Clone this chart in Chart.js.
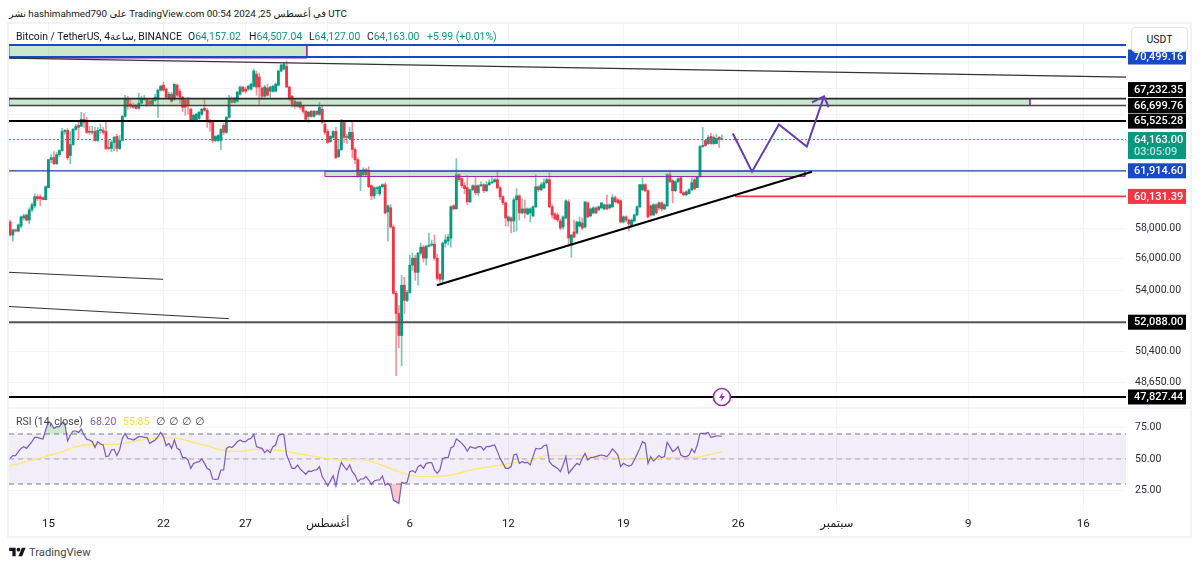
<!DOCTYPE html>
<html>
<head>
<meta charset="utf-8">
<title>BTCUSDT 4h</title>
<script src="https://cdn.jsdelivr.net/npm/chart.js@4"></script>
<style>
    html, body { margin: 0; padding: 0; background: #fff; }
    body { width: 1200px; height: 568px; position: relative; overflow: hidden; font-family: Roboto, "DejaVu Sans", sans-serif; color: #131722; }
    canvas { position: absolute; }
    #published { position: absolute; left: 9px; top: 6px; font-size: 9.8px; line-height: 16px; white-space: nowrap; direction: ltr; }
    #frame { position: absolute; left: 7px; top: 22px; width: 1181px; height: 512px; border: 2px solid #f0f3fa; }
    #sep { position: absolute; left: 8px; top: 407px; width: 1182px; height: 2px; background: #f0f3fa; z-index: 3; }
    #legend { position: absolute; left: 16px; top: 29px; font-size: 10.4px; line-height: 15px; white-space: nowrap; z-index: 4; }
    #legend b, #rsiLegend b { font-weight: 400; position: absolute; top: 0; white-space: nowrap; }
    #legend i { font-style: normal; color: #089981; }
    #rsiLegend { position: absolute; left: 16px; top: 414px; font-size: 10.5px; line-height: 15px; white-space: nowrap; z-index: 4; }
    #unit { position: absolute; left: 1131px; top: 27px; width: 55px; height: 23px; line-height: 23px; text-align: center; font-size: 10.5px; background: #fff; border: 1px solid #e0e3eb; border-radius: 4px; z-index: 4; }
    #brand { position: absolute; left: 29px; top: 545px; font-size: 11.2px; line-height: 16px; color: #434651; }
    #logo { position: absolute; left: 9px; top: 546px; }
</style>
</head>
<body>
<div id="published">نشر hashimahmed790 على TradingView.com في أغسطس 25, 2024 00:54 UTC</div>
<div id="frame"></div>
<canvas id="priceChart"></canvas>
<canvas id="rsiChart"></canvas>
<div id="sep"></div>
<div id="legend">
    <b style="left:0">Bitcoin / TetherUS, 4ساعة, BINANCE</b>
    <b style="left:172px">O<i>64,157.02</i></b>
    <b style="left:233px">H<i>64,507.04</i></b>
    <b style="left:293px">L<i>64,127.00</i></b>
    <b style="left:351px">C<i>64,163.00</i></b>
    <b style="left:411px"><i>+5.99 (+0.01%)</i></b>
</div>
<div id="rsiLegend">
    <b style="left:0;color:#434651">RSI (14, close)</b>
    <b style="left:74px;color:#7e57c2">68.20</b>
    <b style="left:107px;color:#fdd835">55.85</b>
    <b style="left:140px;color:#434651">∅</b>
    <b style="left:153px;color:#434651">∅</b>
    <b style="left:166px;color:#434651">∅</b>
    <b style="left:179px;color:#434651">∅</b>
</div>
<div id="unit">USDT</div>
<svg id="logo" width="17" height="13" viewBox="0 0 36 28"><path d="M14 22H7V11H0V4h14v18zM28 22h-8l7.5-18h8L28 22z" fill="#131722"/><circle cx="20" cy="8" r="4" fill="#131722"/></svg>
<div id="brand">TradingView</div>

<script>
// 4h candles, first one on 12 Jul 16:00, last one on 25 Aug 00:00
var candleOpen = [
    58400,57540,57870,57800,58130,58670,58870,58530,59210,59490,
    60110,60110,60040,59900,60730,62710,62850,62420,63070,63360,
    64760,64830,63000,63800,64910,65210,65130,65660,65510,64760,
    64690,64760,64090,64830,64830,64760,63580,63510,63950,64390,
    63510,64090,65880,67180,66800,66650,66650,66490,66880,67180,
    67180,67030,66800,67100,67180,67880,68270,67960,67260,67570,
    67180,68270,67800,67340,67100,67100,66420,65580,65580,65730,
    66040,66490,66340,65580,65430,64090,64090,64090,65210,64690,
    65810,67100,66950,67030,67570,68120,67960,67960,67960,68190,
    69140,68900,68040,67410,68040,67800,67800,67800,68270,69380,
    69540,69770,68120,67410,67030,66650,66950,66650,66260,65880,
    66260,65880,66260,66040,66420,65280,64760,64020,64320,64760,
    62930,63430,65430,64390,64240,64690,63430,62710,61570,61640,
    61990,61920,60870,60170,60660,60310,60800,60940,59080,59350,
    58070,53830,52610,51300,54330,53400,53890,55590,56040,55140,
    56360,56750,56040,56810,56880,56940,56040,55020,54700,57010,
    57140,57340,59490,59280,61640,61360,60870,60730,59760,60590,
    60870,60380,60870,60940,60520,60940,61080,61150,61290,60730,
    60110,59690,58470,58670,58470,59900,60170,59010,59280,58940,
    59010,58810,59420,60800,60590,60730,61080,61290,59420,58940,
    58870,58470,58070,58670,59760,56880,57740,57670,58130,58330,
    58070,59690,58810,59010,59350,59210,59350,59280,59560,59350,
    59420,60040,59900,59830,58400,58740,58530,58130,58470,58870,
    59420,60590,60940,60520,59490,58870,59560,59350,59690,59280,
    59490,61640,61220,60520,61150,61430,60380,60240,60310,60590,
    61290,60730,61500,63650,64090,63870,64390,63870,63870,64320,
    64157.02
];
var candleClose = [
    57540,57870,57800,58200,58740,58810,58530,59210,59560,60110,
    59970,59970,59900,60800,62710,62850,62420,63070,63360,64760,
    64830,62850,63800,64910,65130,65060,65660,65430,64690,64690,
    64760,64090,64830,64910,64690,63510,63510,63950,64320,63510,
    64090,65880,67180,66650,66650,66570,66490,66880,67180,67260,
    66720,66800,67100,67340,67880,68190,67880,67340,67570,67030,
    68350,67490,67340,66570,66570,66720,65580,65960,66040,66190,
    66420,66340,65580,65430,64090,64390,64460,64910,64690,65810,
    67180,66950,67260,67730,68120,67800,67800,68190,68350,69380,
    68120,68120,67410,68120,67490,68120,68190,68350,69380,69850,
    69930,68120,67260,66800,66650,66950,66570,66260,65660,66190,
    65880,66260,66040,66570,65430,64690,63950,64390,64760,62850,
    63430,65430,64320,64320,64690,63430,62710,61570,61920,61990,
    61640,60800,60170,60730,60730,60800,60940,59010,59490,58070,
    53830,52610,51300,54330,53400,53890,55590,56040,55140,56360,
    56750,56040,56810,56880,56940,56040,54760,54700,57010,57210,
    57400,59420,59280,61640,61290,60870,60660,59760,60590,60870,
    60380,60870,60940,60520,60940,61080,61150,61290,60730,60110,
    59690,58670,58740,58470,59900,60170,59010,59280,59010,59280,
    59280,59420,60800,60590,60940,61080,61290,59420,58870,58600,
    58530,58000,58740,59830,57340,57540,57400,58400,58400,58000,
    59760,58740,59280,59350,59010,59420,59690,59560,59280,59560,
    60040,59760,59690,58400,58740,58530,58270,58530,58870,59420,
    60940,60940,60520,58740,58870,59560,59010,59690,59280,59560,
    61640,61150,60520,61150,61360,60380,60240,60450,60590,61080,
    60660,61500,63650,63730,63730,64320,63870,64320,64240,64170,
    64163.00
];
var candleHigh = [
    58530,57930,57930,58270,58810,58940,58940,59350,59690,60310,
    60240,60240,60110,60870,62710,63070,63290,63220,63430,64980,
    64910,64980,64760,64980,65280,65510,66190,66110,65810,65130,
    65130,65060,65060,65280,65060,65510,64170,64090,64390,64540,
    64460,65960,67490,67410,67180,66880,66800,67650,67410,67490,
    67260,67180,67180,67570,67960,68270,68510,68040,67730,67730,
    68350,68350,67960,67410,67180,67340,66490,66040,66110,66260,
    66490,67180,66490,65660,65510,64460,64540,64980,65360,65880,
    67490,67340,67340,67800,68190,68190,68120,68270,68430,69540,
    69380,69220,68120,68270,68350,68190,68270,68430,69460,69930,
    70090,70180,68190,67490,67180,67030,67030,66720,66340,66260,
    66340,66340,66340,66950,66650,65430,64910,64460,64830,65060,
    64170,65660,65580,64540,65060,65580,63580,62850,61990,62140,
    62070,62210,60940,60800,60800,60870,61010,61080,59560,59560,
    58200,53950,53090,54950,54830,54020,56230,56360,56230,56420,
    57010,56880,56880,57670,57210,57540,56300,55080,57080,57540,
    57600,59490,59560,62780,61710,61430,61080,61570,60660,60940,
    61500,60940,61150,61010,61150,61290,61500,61360,61850,60800,
    60170,59760,58810,58740,60040,60660,60240,59970,59900,59350,
    59350,59490,61640,60870,61080,61360,61430,61780,59560,59010,
    59010,58600,58810,59900,59900,57600,58530,58470,58740,58670,
    59760,59760,59350,59420,59420,59490,59690,59620,60240,59620,
    60240,60170,59970,59900,58810,58810,58600,58600,58940,59490,
    60940,61430,61010,60590,59560,59620,59620,59760,59760,59620,
    61710,61850,61290,61220,61430,61500,60450,60520,60660,61430,
    61430,61500,63730,65060,64170,64460,64610,64460,64540,64390,
    64507.04
];
var candleLow = [
    57470,57140,57740,57740,58000,58530,58470,58270,59080,59350,
    59830,59490,59900,59900,60730,62490,62350,62350,62930,63290,
    64540,62710,62420,63730,64830,64170,65510,65060,64610,64540,
    64540,64020,64020,64610,64540,63430,63430,63290,63360,63290,
    63430,64090,65810,66420,66490,66490,66420,66420,66800,67100,
    66650,66720,66720,67030,65810,67800,67800,67260,67180,66950,
    67100,67340,66880,66260,65960,66040,65510,65510,65510,65660,
    65960,66260,65060,64760,63950,64020,64020,63430,64540,64610,
    65730,66880,66880,66950,67490,67730,67650,67880,67880,68120,
    67490,66800,67180,67340,67410,67340,67730,67730,68190,69300,
    69460,68120,67100,66570,66490,66570,66420,66110,65510,65430,
    65810,65810,65960,65960,65360,64540,63870,63950,64240,62780,
    62850,63360,63950,63870,64170,62850,62420,61430,60520,61570,
    61570,60730,59900,59970,60310,60170,60730,58940,57140,58000,
    53770,49000,50590,49560,52610,53330,53830,55270,54640,54330,
    56230,55780,55590,56750,56810,55910,54640,54510,54450,56750,
    56880,56750,59210,59280,61150,60730,60310,59560,59690,60520,
    60240,60170,60800,60380,60450,60870,61010,61080,60660,59900,
    59560,58130,58130,57670,57740,57800,58530,58940,58670,58870,
    58400,58740,59350,60450,60520,60660,61010,59350,58670,58530,
    58400,57870,57930,58600,56810,56100,57340,57600,58070,57870,
    58000,58670,58740,58940,58940,59150,59280,59210,59210,59280,
    59350,59690,59620,58330,58330,58400,57800,58070,58400,58810,
    59350,60520,60450,58670,58810,58810,58940,59210,59150,59210,
    59420,61080,59690,60450,61080,60310,60170,60170,60310,60520,
    60590,60730,61430,63580,63650,63800,63800,63800,63870,63580,
    64127.00
];

var rsiValues = [
    50.5,52.7,52.7,55.9,58.5,59.9,58.5,61.2,63.9,67.3,
    67.3,66.5,66,73.2,79.9,78.5,74.5,75.9,75.9,79.3,
    78.5,64.4,69.2,72.4,72.4,71.3,74,69.2,65.7,65.2,
    63.9,59.3,63.9,62,61.2,51.9,52.4,57.2,57.7,52.7,
    57.2,66.5,70.5,66.5,66,65.2,66.5,67.9,67.9,67.3,
    67.3,62.5,63.9,65.2,67.9,71.3,67.9,60.7,62.5,58.5,
    65.2,58.5,57.2,51.1,51.1,49.2,42.5,46.5,47.3,47.9,
    50,46.5,42.5,41.2,34,33.7,34,41.2,41.2,58.5,
    59.9,59.1,61.2,63.9,65.2,63.9,63.9,65.7,66.5,69.7,
    59.9,59.1,58.5,55.1,57.2,55.1,59.9,61.2,68.7,69.7,
    69.7,53.2,47.9,42.5,42.5,45.2,42,39.9,37.7,40.4,
    39.9,41.2,41.2,43.9,35.9,32.4,28.4,32.4,36.7,28.4,
    39.9,47.3,43.9,41.2,45.2,39.9,37.2,31.9,34,34,
    35.9,33.2,29.7,32.4,33.2,33.2,36.4,29.2,30.5,27.9,
    17.2,15.9,14.5,31.3,30.5,31.3,39.9,40.7,39.1,43.9,
    45.2,42.5,46.5,47.1,47.1,41.2,38.5,41.2,50.5,51.1,
    51.1,59,59.9,66,64.4,62.5,59.9,56.4,59.9,59.1,
    58.5,59.9,59.9,57.2,59.9,59.9,60.7,61.2,55.9,50.5,
    46.5,42.5,42.5,43.9,53.2,54,46.5,47.9,46.9,47.3,
    45.2,51.9,58.5,58,58.5,60.7,61.2,47.9,45.2,43.9,
    42.5,39.9,45.2,51.9,38.5,41.2,43.9,46.5,45.2,50.5,
    54.5,49.2,51.1,51.3,51.9,52.7,53.2,52.7,51.9,54.5,
    58,55.9,53.2,43.9,46.5,45.2,44.4,45.2,49.2,53.7,
    58.5,63.9,62.5,46.5,51.9,48.4,50.5,52.7,51.1,51.9,
    63.3,59.9,55.9,57.2,59.9,53.2,51.9,51.9,53.2,58,
    55.1,61.2,70.5,70.5,70.5,71.3,67.3,67.9,68.4,68.4,
    68.2
];
var rsiMaCandle = [0,5,9,15,18,23,27,32,38,43,49,56,61,67,73,79,84,90,99,106,113,121,128,134,142,147,152,158,163,169,178,185,191,196,203,209,216,220,228,235,243,250,255,260];
var rsiMaValues = [44.7,47.3,49.7,53.2,55.1,59.1,61.2,61.7,61.7,63.1,65.7,67.1,66.5,63.3,59.9,56.4,56.1,57.7,56.7,54,51.3,49.2,49.7,46.5,39.9,36.7,35.9,36.4,38,41.5,44.7,47.3,49.2,52.7,52.7,52.7,51.3,51.1,49.5,50.5,51.3,51.3,53.2,55.85];
var rsiLevels = [70, 50, 30];
var rsiTicks = [75, 50, 25];

// time axis, in candle numbers
var dateTicks = [14, 56, 86, 116, 146, 182, 224, 266, 302, 350, 392];
var dateLabels = ['15', '22', '27', 'أغسطس', '6', '12', '19', '26', 'سبتمبر', '9', '16'];

var gridPrices = [68000, 66000, 64000, 62000, 60000, 58000, 56000, 54000, 52000, 50400, 48650];
var labelledPrices = [58000, 56000, 54000, 50400, 48650];

// levels with a tag on the price axis
var tagPrices = [70499.16, 67232.35, 66699.76, 65525.28, 61914.60, 60131.39, 52088.00, 47827.44];
var tagColors = ['#1848cc', '#000', '#000', '#000', '#1848cc', '#f23645', '#000', '#000'];
var lastPrice = 64163.00;
var countdown = '03:05:09';

// drawings: candle number / price pairs
var topLineX = [-0.4, 407.6], topLineY = [71480, 71480];
var level70X = [-0.4, 407.6], level67X = [-0.4, 407.6], level66X = [-0.4, 407.6], level65X = [-0.4, 407.6];
var blueLevelX = [-0.4, 407.6], lowLevelX = [-0.4, 407.6], bottomLevelX = [-0.4, 407.6];
var redLevelX = [264.8, 407.6];
var fallingX = [-0.4, 407.6], fallingY = [70417, 68900];
var stub1X = [-0.4, 55.9], stub1Y = [55141, 54700];
var stub2X = [-0.4, 79.9], stub2Y = [53030, 52300];
var risingX = [155.9, 292.9], risingY = [54330, 61850];
var pathX = [264, 271, 280.8, 291, 297.3], pathY = [64610, 61850, 65280, 63650, 67410];
var headX = [292.9, 297.3, 299], headY = [66950, 67410, 66570];
var zoneTop = { x: [-0.4, 108.4], y: [71480, 70417] };
var zoneMid = { x: [-0.4, 372.5], y: [67232.35, 66699.76] };
var zoneLow = { x: [115, 290.3], y: [61870, 61510] };

var xMin = -0.4, xMax = 407.6;
var axisFont = { family: 'Roboto, "DejaVu Sans", sans-serif', size: 10.5 };
var gridColor = '#f3f4f7';

function pts(xs, ys) {
    return xs.map(function (x, i) { return { x: x, y: ys[i] }; });
}

function line(xs, ys, color, width, order, dash) {
    return {
        type: 'line', data: pts(xs, ys), borderColor: color, borderWidth: width,
        borderDash: dash || [], pointRadius: 0, fill: false, order: order, tension: 0
    };
}

function flat(xs, price, color, width, order, dash) {
    return line(xs, xs.map(function () { return price; }), color, width, order, dash);
}

// filled rectangle: fill comes from the top edge, outline is a closed path
function box(zone, order) {
    var x0 = zone.x[0], x1 = zone.x[1], top = zone.y[0], bot = zone.y[1];
    var fillSet = line([x0, x1], [top, top], 'rgba(0,0,0,0)', 0, order + 1);
    fillSet.fill = { target: { value: bot }, above: 'rgba(76,175,80,0.3)', below: 'rgba(76,175,80,0.3)' };
    var outline = line([x0, x1, x1, x0, x0], [top, top, bot, bot, top], '#9c27b0', 1, order);
    return [fillSet, outline];
}

function xRange() {
    return [xMin, xMax];
}

var wicks = candleOpen.map(function (o, i) { return { x: i, y: [candleLow[i], candleHigh[i]] }; });
var bodies = candleOpen.map(function (o, i) { return { x: i, y: [o, candleClose[i]] }; });
var wickColors = candleOpen.map(function (o, i) { return candleClose[i] >= o ? 'rgba(8,153,129,0.55)' : 'rgba(242,54,69,0.55)'; });
var bodyColors = candleOpen.map(function (o, i) { return candleClose[i] >= o ? '#089981' : '#f23645'; });

var priceDatasets = [
    { label: 'wick', data: wicks, backgroundColor: wickColors, barThickness: 1, grouped: false, order: 30 },
    { label: 'body', data: bodies, backgroundColor: bodyColors, barThickness: 2.2, minBarLength: 1, grouped: false, order: 29 },
    flat(xRange(), lastPrice, '#10a38a', 1, 28, [2, 2])
].concat(
    box(zoneTop, 26), box(zoneMid, 24), box(zoneLow, 22),
    [
        flat(topLineX, topLineY[0], '#1848cc', 2, 20),
        flat(level70X, tagPrices[0], '#1848cc', 2, 19),
        flat(level67X, tagPrices[1], '#2a2a2a', 1.8, 18),
        flat(level66X, tagPrices[2], '#444', 1.6, 17),
        flat(level65X, tagPrices[3], '#000', 2, 16),
        flat(blueLevelX, tagPrices[4], '#1c3fb0', 1.2, 27),
        flat(redLevelX, tagPrices[5], '#f23645', 1.6, 15),
        flat(lowLevelX, tagPrices[6], '#555', 2, 14),
        flat(bottomLevelX, tagPrices[7], '#000', 2, 13),
        line(fallingX, fallingY, '#333', 1.2, 12),
        line(stub1X, stub1Y, '#333', 1, 11),
        line(stub2X, stub2Y, '#333', 1, 10),
        line(risingX, risingY, '#000', 2, 9),
        line(pathX, pathY, '#673ab7', 2, 8),
        line(headX, headY, '#673ab7', 2, 7)
    ]
);

// keep the plot area at its full size, tick labels may hang over its edges
function noPadding(s) {
    s.paddingTop = 0;
    s.paddingBottom = 0;
    s.paddingLeft = 0;
    s.paddingRight = 0;
}

function xAxis(showLabels, height) {
    return {
        type: 'linear', min: xMin, max: xMax, offset: false,
        grid: { color: gridColor, offset: false, drawTicks: false },
        border: { display: false },
        afterBuildTicks: function (s) { s.ticks = dateTicks.map(function (v) { return { value: v }; }); },
        afterFit: function (s) { s.height = height; noPadding(s); },
        ticks: {
            display: showLabels, autoSkip: false, maxRotation: 0, padding: 6, color: '#131722',
            font: { family: axisFont.family, size: 11.5 },
            callback: function (v) { return dateLabels[dateTicks.indexOf(v)]; }
        }
    };
}

function yAxisBase() {
    return {
        position: 'right',
        bounds: 'data',
        grid: { color: gridColor, drawTicks: false },
        border: { display: false },
        afterFit: function (s) { s.width = 64; noPadding(s); },
        ticks: { autoSkip: false, padding: 9, color: '#2a2e39', font: axisFont }
    };
}

var priceY = yAxisBase();
priceY.type = 'logarithmic';
priceY.min = 47176;
priceY.max = 73206;
priceY.afterBuildTicks = function (s) { s.ticks = gridPrices.map(function (v) { return { value: v }; }); };
priceY.ticks.callback = function (v) {
    return labelledPrices.indexOf(v) < 0 ? '' : v.toLocaleString('en-US', { minimumFractionDigits: 2 });
};

function money(v) {
    return v.toLocaleString('en-US', { minimumFractionDigits: 2, maximumFractionDigits: 2 });
}

// price tags, markers that sit on the price scale
var tagsPlugin = {
    id: 'priceTags',
    afterDraw: function (chart) {
        var ctx = chart.ctx, y = chart.scales.y, x = chart.scales.x;
        var left = chart.chartArea.right + 2, w = 58, h = 15;
        var rows = tagPrices.map(function (p, i) { return { p: p, c: tagColors[i], at: y.getPixelForValue(p) }; });
        // stack tags that would overlap, upper one moves up
        for (var i = rows.length - 1; i > 0; i--) {
            if (rows[i].at - rows[i - 1].at < h) rows[i - 1].at = rows[i].at - h - 1;
        }
        ctx.save();
        ctx.textBaseline = 'middle';
        ctx.font = '500 11px Roboto, "DejaVu Sans", sans-serif';
        rows.forEach(function (r) {
            ctx.fillStyle = r.c;
            ctx.fillRect(left, r.at - h / 2, w, h);
            ctx.fillStyle = '#fff';
            ctx.fillText(money(r.p), left + 6, r.at + 0.5);
        });
        var ly = y.getPixelForValue(lastPrice);
        ctx.fillStyle = '#089981';
        ctx.fillRect(left, ly - 7.5, w, 27);
        ctx.fillStyle = '#fff';
        ctx.fillText(money(lastPrice), left + 6, ly + 0.5);
        ctx.fillStyle = 'rgba(255,255,255,0.72)';
        ctx.fillText(countdown, left + 6, ly + 12.5);

        // event marker on the bottom level, under the last candle
        var mx = x.getPixelForValue(260), my = y.getPixelForValue(tagPrices[7]);
        ctx.beginPath();
        ctx.arc(mx, my, 8.5, 0, Math.PI * 2);
        ctx.fillStyle = '#fff';
        ctx.fill();
        ctx.lineWidth = 1.6;
        ctx.strokeStyle = '#9c27b0';
        ctx.stroke();
        ctx.beginPath();
        ctx.moveTo(mx + 1.5, my - 5);
        ctx.lineTo(mx - 3, my + 1);
        ctx.lineTo(mx, my + 1);
        ctx.lineTo(mx - 1.5, my + 5);
        ctx.lineTo(mx + 3, my - 1);
        ctx.lineTo(mx, my - 1);
        ctx.closePath();
        ctx.fillStyle = '#9c27b0';
        ctx.fill();
        ctx.restore();
    }
};

function place(id, left, top, width, height) {
    var el = document.getElementById(id);
    el.style.left = left + 'px';
    el.style.top = top + 'px';
    el.width = width;
    el.height = height;
    el.style.width = width + 'px';
    el.style.height = height + 'px';
    return el.getContext('2d');
}

new Chart(place('priceChart', 8, 24, 1182, 385), {
    type: 'bar',
    data: { datasets: priceDatasets },
    plugins: [tagsPlugin],
    options: {
        responsive: false,
        animation: false,
        events: [],
        layout: { autoPadding: false, padding: { left: 1 } },
        plugins: { legend: { display: false }, tooltip: { enabled: false } },
        scales: { x: xAxis(false, 0), y: priceY }
    }
});

// RSI pane
var candleNumbers = rsiValues.map(function (v, i) { return i; });
var rsiY = yAxisBase();
rsiY.type = 'linear';
rsiY.min = 8.4;
rsiY.max = 90;
rsiY.afterBuildTicks = function (s) { s.ticks = rsiTicks.map(function (v) { return { value: v }; }); };
rsiY.ticks.callback = function (v) { return v.toFixed(2); };

var bandSet = flat(xRange(), rsiLevels[0], 'rgba(0,0,0,0)', 0, 9);
bandSet.fill = { target: { value: rsiLevels[2] }, above: 'rgba(126,87,194,0.1)', below: 'rgba(126,87,194,0.1)' };
var overSet = line(candleNumbers, rsiValues, 'rgba(0,0,0,0)', 0, 5);
overSet.fill = { target: { value: rsiLevels[0] }, above: 'rgba(76,175,80,0.28)', below: 'rgba(0,0,0,0)' };
var underSet = line(candleNumbers, rsiValues, 'rgba(0,0,0,0)', 0, 4);
underSet.fill = { target: { value: rsiLevels[2] }, above: 'rgba(0,0,0,0)', below: 'rgba(242,54,69,0.28)' };
var maSet = line(rsiMaCandle, rsiMaValues, '#fde773', 1.4, 3);
maSet.cubicInterpolationMode = 'monotone';

new Chart(place('rsiChart', 8, 409, 1182, 127), {
    type: 'line',
    data: {
        datasets: [
            bandSet,
            flat(xRange(), rsiLevels[0], '#787b86', 1, 8, [5, 4]),
            flat(xRange(), rsiLevels[1], 'rgba(120,123,134,0.6)', 1, 7, [5, 4]),
            flat(xRange(), rsiLevels[2], '#787b86', 1, 6, [5, 4]),
            overSet,
            underSet,
            maSet,
            line(candleNumbers, rsiValues, '#7e57c2', 1.2, 2)
        ]
    },
    options: {
        responsive: false,
        animation: false,
        events: [],
        layout: { autoPadding: false, padding: { left: 1 } },
        plugins: { legend: { display: false }, tooltip: { enabled: false } },
        scales: { x: xAxis(true, 25), y: rsiY }
    }
});
</script>
</body>
</html>
